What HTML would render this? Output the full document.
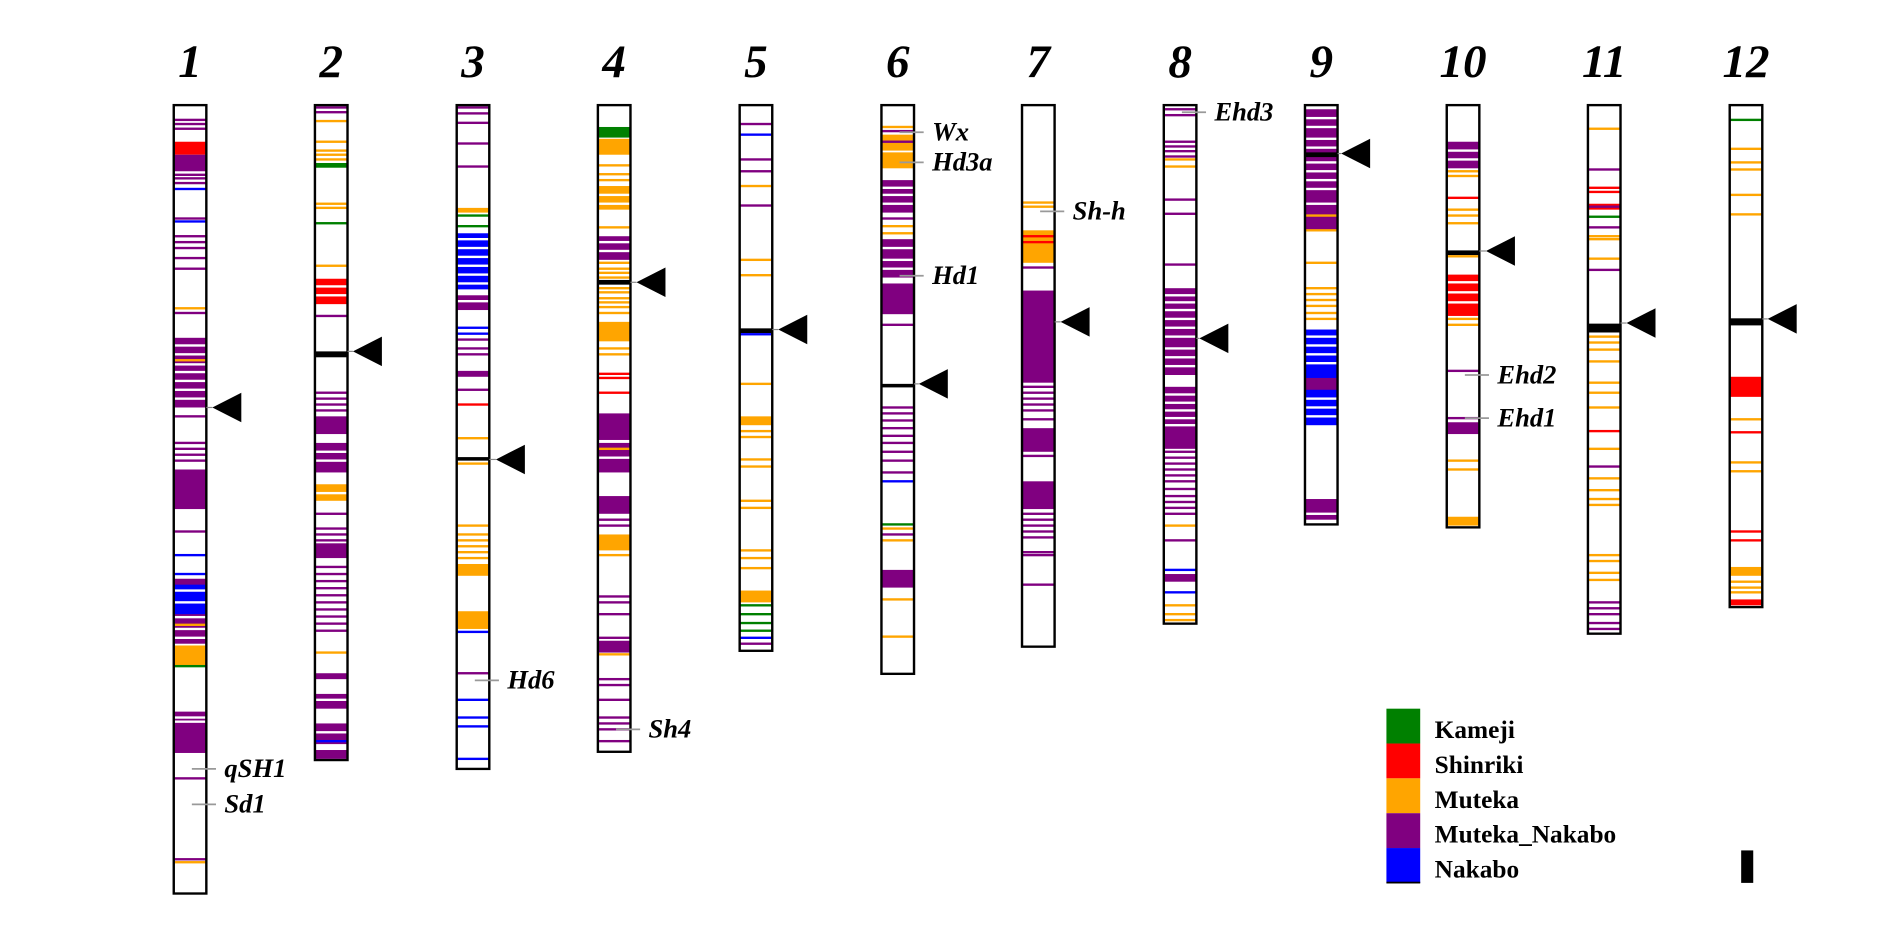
<!DOCTYPE html>
<html><head><meta charset="utf-8"><style>
html,body{margin:0;padding:0;background:#fff;width:1892px;height:926px;overflow:hidden}
svg{display:block}
text{font-family:"Liberation Serif",serif;font-weight:bold}
</style></head><body>
<svg id="s" width="1892" height="926" viewBox="0 0 3136 1568" preserveAspectRatio="none" xmlns="http://www.w3.org/2000/svg"></svg>
<script>
var C={P:"#800080",O:"#FFA500",R:"#FF0000",G:"#008000",B:"#0000FF",K:"#000",W:"#fff"};
var o=1568;
// [x, bottom, num, bands, arrow [tipx,y], labels]
var chr=[
[288,1513,"1",[[203,"P"],[210,"P"],[218,"P"],[240,262,"R"],[262,290,"P"],[296,"P"],[302,"P"],[310,"P"],[320,"B"],[370,"P"],[375,"B"],[400,"P"],[410,"P"],[420,"P"],[437,"P"],[455,"P"],[522,"O"],[530,"P"],[572,690,"P"],[585,"W"],[600,"W"],[617,"W"],[630,"W"],[645,"W"],[660,"W"],[675,"W"],[610,"O"],[705,"P"],[750,"P"],[760,"P"],[770,"P"],[780,"P"],[795,862,"P"],[900,"P"],[940,"B"],[972,"B"],[980,1090,"P"],[990,1040,"B"],[1000,"W"],[1020,"W"],[1045,"W"],[1065,"W"],[1080,"W"],[1058,"O"],[1093,1127,"O"],[1128,"G"],[1205,1275,"P"],[1215,"W"],[1222,"W"],[1318,"P"],[1455,"P"],[1460,"O"]],[352,690],[["qSH1",1302],["Sd1",1362]]],
[522,1287,"2",[[182,"P"],[190,"P"],[205,"O"],[240,"O"],[255,"O"],[262,"O"],[270,"O"],[276,284,"G"],[345,"O"],[352,"O"],[378,"G"],[450,"O"],[472,515,"R"],[485,"W"],[500,"W"],[535,"P"],[595,605,"K"],[665,"P"],[675,"P"],[685,"P"],[695,"P"],[705,735,"P"],[750,800,"P"],[765,"W"],[780,"W"],[820,848,"O"],[835,"W"],[870,"P"],[895,"P"],[905,"P"],[915,"P"],[920,945,"P"],[960,"P"],[972,"P"],[984,"P"],[996,"P"],[1008,"P"],[1020,"P"],[1032,"P"],[1044,"P"],[1056,"P"],[1068,"P"],[1105,"O"],[1140,1150,"P"],[1175,1200,"P"],[1185,"W"],[1225,1260,"P"],[1240,"W"],[1255,"B"],[1270,1285,"P"]],[585,595],[]],
[757,1302,"3",[[182,"P"],[192,"P"],[208,"P"],[243,"P"],[282,"P"],[352,360,"O"],[365,"G"],[383,"G"],[395,490,"B"],[405,"W"],[420,"W"],[435,"W"],[450,"W"],[465,"W"],[480,"W"],[500,525,"P"],[510,"W"],[555,"B"],[565,"B"],[575,"P"],[590,"P"],[600,"P"],[628,638,"P"],[660,"P"],[685,"R"],[742,"O"],[774,780,"K"],[785,"O"],[890,"O"],[905,"O"],[915,"O"],[925,"O"],[935,"O"],[945,"O"],[955,975,"O"],[1035,1065,"O"],[1070,"B"],[1140,"P"],[1185,"B"],[1215,"B"],[1230,"B"],[1285,"B"]],[822,778],[["Hd6",1152]]],
[991,1273,"4",[[215,233,"G"],[235,262,"O"],[280,"O"],[295,"O"],[305,"O"],[315,355,"O"],[330,"W"],[345,"W"],[385,"O"],[400,440,"P"],[410,"W"],[425,"W"],[445,"O"],[455,"O"],[462,"O"],[470,"O"],[478,"K"],[488,"O"],[495,"O"],[505,"O"],[512,"O"],[520,"O"],[530,"O"],[545,578,"O"],[590,"O"],[600,"O"],[633,"R"],[640,"R"],[665,"R"],[700,745,"P"],[750,800,"P"],[760,"O"],[775,"W"],[840,870,"P"],[880,"P"],[890,"P"],[905,932,"O"],[940,"O"],[1010,"P"],[1020,"P"],[1040,"P"],[1080,"P"],[1085,1105,"P"],[1108,"O"],[1150,"P"],[1160,"P"],[1185,"P"],[1215,"P"],[1225,"P"],[1235,"P"],[1255,"P"]],[1055,478],[["Sh4",1235]]],
[1226,1102,"5",[[210,"P"],[228,"B"],[270,"P"],[290,"P"],[315,"O"],[348,"P"],[440,"O"],[466,"O"],[560,"K"],[566,"B"],[650,"O"],[705,720,"O"],[730,"O"],[740,"O"],[778,"O"],[790,"O"],[848,"O"],[860,"O"],[932,"O"],[945,"O"],[962,"O"],[1000,1020,"O"],[1025,"G"],[1040,"G"],[1055,"G"],[1068,"G"],[1080,"B"],[1090,"P"]],[1290,558],[]],
[1461,1141,"6",[[215,"O"],[222,"P"],[228,255,"O"],[240,"P"],[258,285,"O"],[305,360,"P"],[318,"W"],[330,"W"],[345,"W"],[370,"P"],[383,"O"],[395,"O"],[405,470,"P"],[420,"W"],[440,"W"],[455,"W"],[480,532,"P"],[550,"P"],[650,656,"K"],[690,"P"],[700,"P"],[712,"P"],[725,"P"],[738,"P"],[750,"P"],[765,"P"],[780,"P"],[800,"P"],[815,"B"],[888,"G"],[895,"O"],[905,"P"],[915,"O"],[965,995,"P"],[1015,"O"],[1078,"O"]],[1523,650],[["Wx",224],["Hd3a",275],["Hd1",467]]],
[o+126,1095,"7",[[343,"O"],[350,"O"],[390,445,"O"],[400,"R"],[410,"R"],[453,"P"],[492,648,"P"],[655,"P"],[665,"P"],[675,"P"],[685,"P"],[695,"P"],[710,"P"],[725,765,"P"],[772,"P"],[815,862,"P"],[870,"P"],[880,"P"],[890,"P"],[900,"P"],[910,"P"],[935,"P"],[940,"P"],[990,"P"]],[o+190,545],[["Sh-h",358]]],
[o+361,1056,"8",[[185,"P"],[195,"P"],[240,"P"],[248,"P"],[256,"P"],[265,"P"],[270,"O"],[282,"O"],[338,"P"],[362,"P"],[448,"P"],[488,635,"P"],[500,"W"],[512,"W"],[525,"W"],[540,"W"],[555,"W"],[570,"W"],[590,"W"],[605,"W"],[620,"W"],[655,760,"P"],[668,"W"],[682,"W"],[695,"W"],[708,"W"],[720,"W"],[765,"P"],[775,"P"],[785,"P"],[795,"P"],[805,"P"],[815,"P"],[828,"P"],[840,"P"],[850,"P"],[860,"P"],[870,"P"],[890,"O"],[915,"P"],[965,"B"],[972,985,"P"],[1003,"B"],[1025,"O"],[1040,"O"],[1050,"O"]],[o+420,573],[["Ehd3",190]]],
[o+595,888,"9",[[185,390,"P"],[200,"W"],[215,"W"],[235,"W"],[250,"W"],[262,"K"],[275,"W"],[290,"W"],[305,"W"],[320,"W"],[345,"W"],[365,"O"],[390,"O"],[445,"O"],[488,"O"],[498,"O"],[508,"O"],[518,"O"],[530,"O"],[540,"O"],[558,720,"B"],[570,"W"],[585,"W"],[600,"W"],[615,"W"],[640,660,"P"],[675,"W"],[690,"W"],[705,"W"],[845,880,"P"],[870,"W"]],[o+655,260],[]],
[o+830,893,"10",[[240,285,"P"],[255,"W"],[270,"W"],[290,"O"],[298,"O"],[335,"R"],[355,"O"],[365,"O"],[378,"O"],[428,"K"],[434,"O"],[465,535,"R"],[478,"W"],[495,"W"],[512,"W"],[540,"O"],[550,"O"],[628,"P"],[708,"P"],[715,735,"P"],[780,"O"],[795,"O"],[875,890,"O"]],[o+895,425],[["Ehd2",635],["Ehd1",708]]],
[o+1064,1073,"11",[[218,"O"],[287,"P"],[318,"R"],[325,"R"],[345,355,"R"],[350,"P"],[367,"G"],[385,"P"],[400,"O"],[405,"O"],[438,"O"],[457,"P"],[548,563,"K"],[570,"O"],[580,"O"],[592,"O"],[612,"O"],[648,"O"],[665,"O"],[690,"O"],[730,"R"],[760,"O"],[790,"P"],[810,"O"],[830,"O"],[845,"O"],[855,"O"],[940,"O"],[950,"O"],[970,"O"],[982,"O"],[1020,"P"],[1030,"P"],[1040,"P"],[1055,"P"],[1065,"P"]],[o+1128,547],[]],
[o+1299,1028,"12",[[203,"G"],[252,"O"],[275,"O"],[287,"O"],[330,"O"],[363,"O"],[539,551,"K"],[638,672,"R"],[710,"O"],[732,"R"],[783,"O"],[798,"O"],[900,"R"],[915,"R"],[960,975,"O"],[985,"O"],[995,"O"],[1003,"O"],[1015,1025,"R"]],[o+1362,540],[]]
];
var h="";
chr.forEach(function(c){
 var x=c[0],w=54,t=178,b=c[1];
 h+='<rect x="'+x+'" y="'+t+'" width="'+w+'" height="'+(b-t)+'" fill="#fff"/>';
 c[3].forEach(function(d){
  var y1,hh,col;
  if(d.length==2){y1=d[0]-2;hh=4;col=d[1];}else{y1=d[0];hh=d[1]-d[0];col=d[2];}
  if(col=="K"&&d.length==2){y1=d[0]-4;hh=8;}
  h+='<rect x="'+x+'" y="'+y1+'" width="'+w+'" height="'+hh+'" fill="'+C[col]+'"/>';
 });
 h+='<rect x="'+x+'" y="'+t+'" width="'+w+'" height="'+(b-t)+'" fill="none" stroke="#000" stroke-width="4"/>';
 h+='<text x="'+(x+27)+'" y="130" font-size="78" font-style="italic" text-anchor="middle">'+c[2]+'</text>';
 var a=c[4];
 h+='<line x1="'+(x+w)+'" y1="'+a[1]+'" x2="'+a[0]+'" y2="'+a[1]+'" stroke="#888" stroke-width="2"/>';
 h+='<polygon points="'+a[0]+','+a[1]+' '+(a[0]+48)+','+(a[1]-25)+' '+(a[0]+48)+','+(a[1]+25)+'" fill="#000"/>';
 c[5].forEach(function(l){
  h+='<line x1="'+(x+30)+'" y1="'+l[1]+'" x2="'+(x+70)+'" y2="'+l[1]+'" stroke="#999" stroke-width="3"/>';
  h+='<text x="'+(x+84)+'" y="'+(l[1]+14)+'" font-size="44" font-style="italic">'+l[0]+'</text>';
 });
});
var lg=[["G","Kameji"],["R","Shinriki"],["O","Muteka"],["P","Muteka_Nakabo"],["B","Nakabo"]];
lg.forEach(function(l,i){
 var y=1200+i*59;
 h+='<rect x="'+(o+730)+'" y="'+y+'" width="56" height="59" fill="'+C[l[0]]+'"/>';
 h+='<text x="'+(o+810)+'" y="'+(y+50)+'" font-size="42">'+l[1]+'</text>';
});
h+='<rect x="'+(o+730)+'" y="1493" width="56" height="3" fill="#000"/>';
h+='<rect x="'+(o+1318)+'" y="1440" width="20" height="55" fill="#000"/>';
document.getElementById("s").innerHTML=h;
</script>
</body></html>
